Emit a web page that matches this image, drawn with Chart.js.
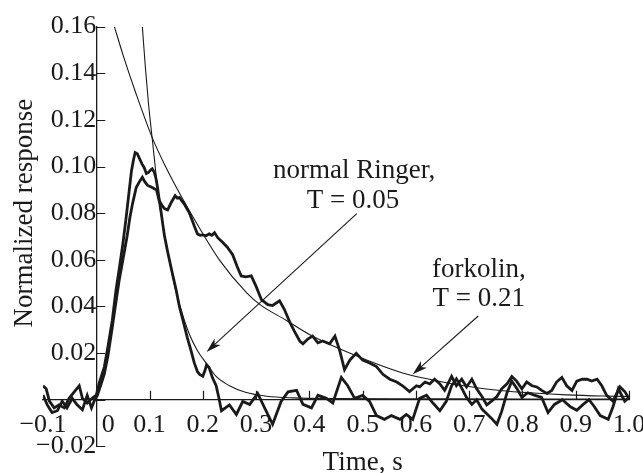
<!DOCTYPE html>
<html>
<head>
<meta charset="utf-8">
<script src="https://cdn.jsdelivr.net/npm/chart.js@4/dist/chart.umd.min.js"></script>
<style>
    html, body { margin: 0; padding: 0; background: #fff; }
    #wrap { width: 643px; height: 473px; position: relative; }
</style>
</head>
<body>
<div id="wrap"><canvas id="responseChart"></canvas></div>
<script>
// Axis ticks
const xTicks = [-0.1, 0, 0.1, 0.2, 0.3, 0.4, 0.5, 0.6, 0.7, 0.8, 0.9, 1.0];
const xTickLabels = ['\u22120.1', '0', '0.1', '0.2', '0.3', '0.4', '0.5', '0.6', '0.7', '0.8', '0.9', '1.0'];
const yTicks = [-0.02, 0, 0.02, 0.04, 0.06, 0.08, 0.10, 0.12, 0.14, 0.16];
const yTickLabels = ['\u22120.02', '', '0.02', '0.04', '0.06', '0.08', '0.10', '0.12', '0.14', '0.16'];

// Measured response, normal Ringer
const ringerTime = [
    -0.100, -0.094, -0.088, -0.079, -0.070, -0.060, -0.051, -0.041, -0.032, -0.026, -0.017, -0.008, 0.000,
    0.006, 0.015, 0.021, 0.030, 0.037, 0.043, 0.050, 0.056, 0.061, 0.066, 0.070, 0.073, 0.077, 0.081,
    0.086, 0.090, 0.094, 0.098, 0.102, 0.105, 0.109, 0.112, 0.115, 0.118, 0.122, 0.125, 0.128, 0.134,
    0.143, 0.150, 0.156, 0.164, 0.171, 0.178, 0.184, 0.190, 0.194, 0.200, 0.204, 0.207, 0.212, 0.218,
    0.225, 0.230, 0.235, 0.250, 0.263, 0.275, 0.288, 0.303, 0.316, 0.331, 0.347, 0.360, 0.376, 0.388,
    0.404, 0.416, 0.432, 0.444, 0.460, 0.472, 0.485, 0.500, 0.513, 0.526, 0.541, 0.554, 0.570, 0.582,
    0.594, 0.607, 0.620, 0.632, 0.645, 0.657, 0.667, 0.676, 0.686, 0.695, 0.705, 0.714, 0.724, 0.733,
    0.742, 0.752, 0.761, 0.771, 0.780, 0.789, 0.799, 0.810, 0.822, 0.836, 0.848, 0.860, 0.875, 0.890,
    0.902, 0.914, 0.925, 0.935, 0.946, 0.961, 0.970, 0.980, 0.992, 1.000
];
const ringerResp = [
    0.0060, 0.0047, -0.0006, -0.0035, -0.0022, -0.0035, 0.0006, 0.0035, 0.0060, 0.0006, -0.0014, 0.0006, 0.0020,
    0.0076, 0.0140, 0.0215, 0.0340, 0.0470, 0.0560, 0.0670, 0.0780, 0.0880, 0.0980, 0.1030, 0.1060, 0.1055, 0.1035,
    0.1010, 0.0995, 0.0970, 0.0975, 0.0985, 0.0990, 0.0975, 0.0950, 0.0910, 0.0860, 0.0800, 0.0750, 0.0703, 0.0634,
    0.0540, 0.0470, 0.0400, 0.0330, 0.0265, 0.0210, 0.0158, 0.0120, 0.0109, 0.0101, 0.0125, 0.0150, 0.0137, 0.0095,
    0.0060, 0.0010, -0.0047, -0.0022, -0.0063, -0.0007, -0.0020, 0.0027, -0.0035, -0.0105, -0.0007, 0.0034, 0.0040, -0.0020,
    -0.0035, 0.0019, 0.0006, -0.0014, 0.0096, 0.0060, 0.0006, 0.0019, -0.0007, -0.0068, -0.0084, -0.0068, -0.0084, -0.0063,
    -0.0084, 0.0006, 0.0019, -0.0014, -0.0047, -0.0007, 0.0060, 0.0090, 0.0050, 0.0010, -0.0020, 0.0000, -0.0040, -0.0060,
    -0.0080, -0.0105, -0.0050, 0.0030, 0.0080, 0.0050, 0.0010, 0.0030, 0.0020, 0.0010, -0.0055, -0.0020, 0.0000, -0.0030,
    -0.0045, -0.0020, 0.0000, -0.0030, -0.0068, -0.0084, -0.0030, 0.0047, -0.0006, 0.0010
];

// Measured response, forkolin
const forkTime = [
    -0.100, -0.092, -0.083, -0.073, -0.064, -0.055, -0.045, -0.036, -0.026, -0.017, -0.009, -0.004, 0.002,
    0.008, 0.015, 0.022, 0.030, 0.037, 0.043, 0.050, 0.058, 0.063, 0.068, 0.075, 0.081, 0.0865, 0.091,
    0.096, 0.100, 0.105, 0.109, 0.113, 0.118, 0.123, 0.128, 0.134, 0.141, 0.148, 0.152, 0.156, 0.160,
    0.165, 0.170, 0.175, 0.180, 0.184, 0.190, 0.195, 0.200, 0.206, 0.212, 0.217, 0.222, 0.228, 0.237,
    0.246, 0.256, 0.265, 0.272, 0.281, 0.291, 0.300, 0.310, 0.322, 0.331, 0.344, 0.353, 0.363, 0.372,
    0.382, 0.388, 0.397, 0.406, 0.416, 0.425, 0.438, 0.448, 0.457, 0.466, 0.476, 0.488, 0.500, 0.513,
    0.526, 0.538, 0.551, 0.564, 0.575, 0.588, 0.601, 0.607, 0.617, 0.626, 0.635, 0.645, 0.654, 0.667,
    0.676, 0.686, 0.695, 0.705, 0.714, 0.724, 0.733, 0.742, 0.752, 0.761, 0.771, 0.780, 0.789, 0.799,
    0.808, 0.818, 0.827, 0.836, 0.846, 0.855, 0.864, 0.874, 0.883, 0.893, 0.902, 0.912, 0.921, 0.930,
    0.940, 0.949, 0.958, 0.970, 0.983, 0.992, 1.000
];
const forkResp = [
    0.0020, -0.0022, -0.0055, -0.0047, -0.0006, -0.0035, 0.0006, -0.0022, -0.0043, 0.0019, -0.0035, -0.0006, 0.0019,
    0.0060, 0.0110, 0.0190, 0.0310, 0.0420, 0.0512, 0.0600, 0.0703, 0.0780, 0.0840, 0.0910, 0.0935, 0.0954, 0.0935,
    0.0920, 0.0915, 0.0910, 0.0905, 0.0900, 0.0855, 0.0835, 0.0820, 0.0814, 0.0847, 0.0875, 0.0865, 0.0868, 0.0855,
    0.0840, 0.0820, 0.0800, 0.0770, 0.0745, 0.0711, 0.0705, 0.0707, 0.0703, 0.0711, 0.0705, 0.0716, 0.0695, 0.0675,
    0.0654, 0.0622, 0.0568, 0.0531, 0.0527, 0.0531, 0.0486, 0.0429, 0.0408, 0.0404, 0.0424, 0.0388, 0.0334, 0.0293,
    0.0252, 0.0240, 0.0260, 0.0273, 0.0244, 0.0252, 0.0240, 0.0273, 0.0211, 0.0129, 0.0170, 0.0199, 0.0170, 0.0158,
    0.0142, 0.0109, 0.0088, 0.0076, 0.0060, 0.0035, 0.0060, 0.0055, 0.0076, 0.0068, 0.0088, 0.0068, 0.0040, 0.0100,
    0.0060, 0.0088, 0.0055, 0.0088, 0.0047, 0.0014, -0.0022, -0.0006, 0.0014, 0.0047, 0.0068, 0.0100, 0.0080, 0.0047,
    0.0076, 0.0060, 0.0055, 0.0040, 0.0027, 0.0040, 0.0076, 0.0096, 0.0060, 0.0040, 0.0080, 0.0088, 0.0088, 0.0080,
    0.0088, 0.0060, 0.0019, -0.0006, 0.0055, 0.0035, 0.0006
];

// Exponential fit, normal Ringer (T = 0.05)
const fitRingerTime = [0.0865, 0.092, 0.098, 0.105, 0.112, 0.118, 0.125, 0.135, 0.148, 0.160, 0.175, 0.190, 0.207, 0.225, 0.250, 0.280, 0.320, 0.370, 0.450, 0.600, 0.800, 1.000];
const fitRingerResp = [0.160, 0.143, 0.127, 0.112, 0.097, 0.085, 0.075, 0.062, 0.048, 0.038, 0.028, 0.021, 0.0155, 0.0100, 0.0060, 0.0032, 0.0015, 0.0008, 0.0005, 0.0004, 0.0003, 0.0003];

// Exponential fit, forkolin (T = 0.21)
const fitForkTime = [0.034, 0.050, 0.075, 0.105, 0.130, 0.160, 0.194, 0.231, 0.282, 0.306, 0.357, 0.400, 0.481, 0.575, 0.632, 0.695, 0.758, 0.820, 0.883, 0.950, 1.000];
const fitForkResp = [0.160, 0.148, 0.131, 0.1124, 0.100, 0.087, 0.0735, 0.060, 0.0459, 0.041, 0.0340, 0.028, 0.0195, 0.0115, 0.0085, 0.0058, 0.0040, 0.0029, 0.0021, 0.0016, 0.0014];

const INK = '#1a1a1a';
const FONT = '"Liberation Serif", "Times New Roman", serif';

function toPoints(xs, ys) {
    return xs.map((x, i) => ({ x: x, y: ys[i] }));
}

// Arrow from (t0, v0) to (t1, v1) in data units
function drawArrow(ctx, xs, ys, t0, v0, t1, v1) {
    const x0 = xs.getPixelForValue(t0), y0 = ys.getPixelForValue(v0);
    const x1 = xs.getPixelForValue(t1), y1 = ys.getPixelForValue(v1);
    const a = Math.atan2(y1 - y0, x1 - x0);
    ctx.beginPath();
    ctx.moveTo(x0, y0);
    ctx.lineTo(x1 - 10 * Math.cos(a), y1 - 10 * Math.sin(a));
    ctx.stroke();
    ctx.beginPath();
    ctx.moveTo(x1, y1);
    ctx.lineTo(x1 - 15 * Math.cos(a) + 4.5 * Math.sin(a), y1 - 15 * Math.sin(a) - 4.5 * Math.cos(a));
    ctx.lineTo(x1 - 11 * Math.cos(a), y1 - 11 * Math.sin(a));
    ctx.lineTo(x1 - 15 * Math.cos(a) - 4.5 * Math.sin(a), y1 - 15 * Math.sin(a) + 4.5 * Math.cos(a));
    ctx.closePath();
    ctx.fill();
}

// Inner ticks, x labels, titles and notes
const decorPlugin = {
    id: 'decor',
    afterDraw(chart) {
        const ctx = chart.ctx;
        const xs = chart.scales.x, ys = chart.scales.y;
        const x0 = xs.getPixelForValue(0), y0 = ys.getPixelForValue(0);
        ctx.save();
        ctx.strokeStyle = INK;
        ctx.fillStyle = INK;
        ctx.lineWidth = 1.2;

        // ticks point inward
        ctx.beginPath();
        yTicks.forEach(v => {
            const py = Math.round(ys.getPixelForValue(v)) + 0.5;
            ctx.moveTo(x0, py);
            ctx.lineTo(x0 + 9, py);
        });
        xTicks.forEach(t => {
            if (t <= 0) return;
            const px = Math.round(xs.getPixelForValue(t)) + 0.5;
            ctx.moveTo(px, y0);
            ctx.lineTo(px, y0 - 9);
        });
        ctx.stroke();

        // x tick labels sit under the zero line
        ctx.font = '26px ' + FONT;
        ctx.textAlign = 'center';
        ctx.textBaseline = 'alphabetic';
        xTicks.forEach((t, i) => {
            const shift = t === 0 ? 12 : 0;
            ctx.fillText(xTickLabels[i], xs.getPixelForValue(t) + shift, y0 + 32);
        });

        // axis titles
        ctx.font = '27px ' + FONT;
        ctx.fillText('Time, s', xs.getPixelForValue(0.5), 470);
        ctx.save();
        ctx.translate(32, ys.getPixelForValue(0.08));
        ctx.rotate(-Math.PI / 2);
        ctx.fillText('Normalized response', 0, 0);
        ctx.restore();

        // notes
        ctx.fillText('normal Ringer,', xs.getPixelForValue(0.484), ys.getPixelForValue(0.0952));
        ctx.fillText('T = 0.05', xs.getPixelForValue(0.482), ys.getPixelForValue(0.0823));
        ctx.fillText('forkolin,', xs.getPixelForValue(0.718), ys.getPixelForValue(0.0527));
        ctx.fillText('T = 0.21', xs.getPixelForValue(0.718), ys.getPixelForValue(0.0400));

        ctx.lineWidth = 1.1;
        drawArrow(ctx, xs, ys, 0.489, 0.0798, 0.207, 0.0205);
        drawArrow(ctx, xs, ys, 0.717, 0.0359, 0.594, 0.0109);
        ctx.restore();
    }
};

document.addEventListener('DOMContentLoaded', () => {
    const ctx = document.getElementById('responseChart').getContext('2d');
    new Chart(ctx, {
        type: 'scatter',
        data: {
            datasets: [
                {
                    label: 'fit normal Ringer',
                    data: toPoints(fitRingerTime, fitRingerResp),
                    showLine: true,
                    borderColor: INK,
                    borderWidth: 1.1,
                    pointRadius: 0,
                    cubicInterpolationMode: 'monotone'
                },
                {
                    label: 'fit forkolin',
                    data: toPoints(fitForkTime, fitForkResp),
                    showLine: true,
                    borderColor: INK,
                    borderWidth: 1.1,
                    pointRadius: 0,
                    cubicInterpolationMode: 'monotone'
                },
                {
                    label: 'normal Ringer',
                    data: toPoints(ringerTime, ringerResp),
                    showLine: true,
                    borderColor: INK,
                    borderWidth: 2.8,
                    pointRadius: 0,
                    tension: 0
                },
                {
                    label: 'forkolin',
                    data: toPoints(forkTime, forkResp),
                    showLine: true,
                    borderColor: INK,
                    borderWidth: 2.8,
                    pointRadius: 0,
                    tension: 0
                }
            ]
        },
        options: {
            responsive: true,
            maintainAspectRatio: false,
            animation: false,
            layout: { padding: { left: 43, right: 14, top: 21, bottom: 13 } },
            plugins: {
                legend: { display: false },
                tooltip: { enabled: false }
            },
            scales: {
                x: {
                    type: 'linear',
                    position: { y: 0 },
                    min: -0.1,
                    max: 1.0,
                    afterBuildTicks: scale => { scale.ticks = xTicks.map(v => ({ value: v })); },
                    grid: { display: true, drawOnChartArea: false, drawTicks: false },
                    border: { display: true, color: INK, width: 1.3 },
                    ticks: { display: false }
                },
                y: {
                    type: 'linear',
                    position: { x: 0 },
                    min: -0.02,
                    max: 0.16,
                    afterBuildTicks: scale => { scale.ticks = yTicks.map(v => ({ value: v })); },
                    grid: { display: true, drawOnChartArea: false, drawTicks: false },
                    border: { display: true, color: INK, width: 1.3 },
                    ticks: {
                        color: INK,
                        padding: 11,
                        font: { family: FONT, size: 26 },
                        callback: (value, index) => yTickLabels[index]
                    }
                }
            }
        },
        plugins: [decorPlugin]
    });
});
</script>
</body>
</html>
